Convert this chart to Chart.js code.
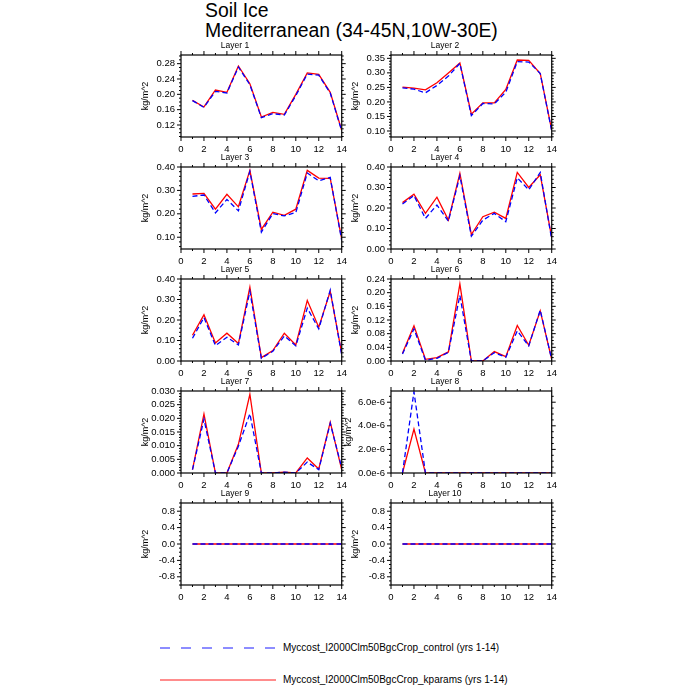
<!DOCTYPE html>
<html>
<head>
<meta charset="utf-8">
<script src="https://cdn.jsdelivr.net/npm/chart.js@4.4.1/dist/chart.umd.min.js"></script>
<style>
  body { margin: 0; background: #fff; width: 700px; height: 700px; position: relative; overflow: hidden;
         font-family: "Liberation Sans", Arial, sans-serif; }
  .pnl { position: absolute; }
  .ttl { position: absolute; left: 205px; font-size: 19.4px; line-height: 19px; white-space: nowrap; }
  .leg { position: absolute; left: 283px; font-size: 10px; line-height: 12px; white-space: nowrap; }
  svg { position: absolute; left: 0; top: 0; }
</style>
</head>
<body>
<div class="ttl" style="top:1px">Soil Ice</div>
<div class="ttl" style="top:21px">Mediterranean (34-45N,10W-30E)</div>

<svg width="700" height="700">
  <line x1="160" y1="648" x2="276" y2="648" stroke="#0000ff" stroke-width="0.9" stroke-dasharray="10,11"/>
  <line x1="160" y1="680" x2="276" y2="680" stroke="#ff0000" stroke-width="0.9"/>
</svg>
<div class="leg" style="top:642px">Myccost_I2000Clm50BgcCrop_control (yrs 1-14)</div>
<div class="leg" style="top:674px">Myccost_I2000Clm50BgcCrop_kparams (yrs 1-14)</div>

<script>
// years on the x axis
const years = [1, 2, 3, 4, 5, 6, 7, 8, 9, 10, 11, 12, 13, 14];
const xTicks = [0, 2, 4, 6, 8, 10, 12, 14];

// control = blue dashed, kparams = red solid
const layer1Control = [0.1835, 0.166, 0.2078, 0.2035, 0.2713, 0.2252, 0.1391, 0.1496, 0.146, 0.1965, 0.253, 0.250, 0.2035, 0.104];
const layer1Kparams = [0.1843, 0.167, 0.2113, 0.2052, 0.2739, 0.2278, 0.1409, 0.153, 0.1478, 0.200, 0.2557, 0.252, 0.2052, 0.106];
const layer2Control = [0.2486, 0.244, 0.2313, 0.2567, 0.2889, 0.3327, 0.153, 0.1945, 0.1933, 0.2336, 0.3385, 0.3373, 0.298, 0.100];
const layer2Kparams = [0.2509, 0.2475, 0.2417, 0.2659, 0.2993, 0.3339, 0.1576, 0.1968, 0.1968, 0.2429, 0.3442, 0.3431, 0.298, 0.103];
const layer3Control = [0.2746, 0.2804, 0.2039, 0.2616, 0.2126, 0.3814, 0.1216, 0.201, 0.1909, 0.2053, 0.3742, 0.341, 0.3554, 0.0856];
const layer3Kparams = [0.2847, 0.2876, 0.2198, 0.2833, 0.2299, 0.3857, 0.1332, 0.2068, 0.1938, 0.2198, 0.3857, 0.3525, 0.351, 0.0928];
const layer4Control = [0.2197, 0.2607, 0.1492, 0.2148, 0.136, 0.3574, 0.0623, 0.141, 0.1738, 0.1328, 0.3475, 0.2885, 0.3738, 0.046];
const layer4Kparams = [0.2262, 0.2672, 0.1738, 0.2525, 0.141, 0.3689, 0.0705, 0.1574, 0.180, 0.1492, 0.3738, 0.300, 0.3623, 0.0557];
const layer5Control = [0.111, 0.2122, 0.0751, 0.116, 0.0784, 0.3396, 0.013, 0.0473, 0.1224, 0.0735, 0.258, 0.1567, 0.3461, 0.0294];
const layer5Kparams = [0.1257, 0.2253, 0.0882, 0.1355, 0.0849, 0.3608, 0.0163, 0.0506, 0.1355, 0.0784, 0.2955, 0.1649, 0.3396, 0.0376];
const layer6Control = [0.0206, 0.0941, 0.002, 0.0078, 0.0255, 0.1922, 0, 0, 0.0245, 0.0108, 0.0882, 0.0441, 0.149, 0.004];
const layer6Kparams = [0.0225, 0.1029, 0.0049, 0.0098, 0.0265, 0.2255, 0, 0, 0.0275, 0.0127, 0.1039, 0.0461, 0.147, 0.005];
const layer7Control = [0.0012, 0.0197, 0, 0, 0.0098, 0.0217, 0, 0, 0.0003, 0, 0.0040, 0.0012, 0.0182, 0.0019];
const layer7Kparams = [0.0012, 0.0216, 0, 0, 0.0105, 0.0288, 0, 0, 0.0003, 0, 0.0055, 0.0015, 0.0186, 0.0012];
const layer8Control = [0, 6.89e-6, 0, 0, 0, 0, 0, 0, 0, 0, 0, 0, 0, 0];
const layer8Kparams = [0, 3.73e-6, 0, 0, 0, 0, 0, 0, 0, 0, 0, 0, 0, 0];
const layer9Control = [0, 0, 0, 0, 0, 0, 0, 0, 0, 0, 0, 0, 0, 0];
const layer9Kparams = [0, 0, 0, 0, 0, 0, 0, 0, 0, 0, 0, 0, 0, 0];
const layer10Control = [0, 0, 0, 0, 0, 0, 0, 0, 0, 0, 0, 0, 0, 0];
const layer10Kparams = [0, 0, 0, 0, 0, 0, 0, 0, 0, 0, 0, 0, 0, 0];

// y tick labels per layer
const yTicks1 = [0.12, 0.16, 0.20, 0.24, 0.28];
const yTicks2 = [0.10, 0.15, 0.20, 0.25, 0.30, 0.35];
const yTicks3 = [0.10, 0.20, 0.30, 0.40];
const yTicks4 = [0.00, 0.10, 0.20, 0.30, 0.40];
const yTicks5 = [0.00, 0.10, 0.20, 0.30, 0.40];
const yTicks6 = [0.00, 0.04, 0.08, 0.12, 0.16, 0.20, 0.24];
const yTicks7 = [0.000, 0.005, 0.010, 0.015, 0.020, 0.025, 0.030];
const yTicks8 = [0, 2e-6, 4e-6, 6e-6];
const yTicks9 = [-0.8, -0.4, 0.0, 0.4, 0.8];
const yTicks10 = [-0.8, -0.4, 0.0, 0.4, 0.8];

const fixed = d => v => v.toFixed(d);
const sci6 = v => (v / 1e-6).toFixed(1) + 'e-6';

const panels = [
  { name: 'Layer 1', ctl: layer1Control, kp: layer1Kparams, ticks: yTicks1, min: 0.0887, max: 0.3026, minor: 0.01, fmt: fixed(2) },
  { name: 'Layer 2', ctl: layer2Control, kp: layer2Kparams, ticks: yTicks2, min: 0.0793, max: 0.3615, minor: 0.01, fmt: fixed(2) },
  { name: 'Layer 3', ctl: layer3Control, kp: layer3Kparams, ticks: yTicks3, min: 0.0497, max: 0.40, minor: 0.02, fmt: fixed(2) },
  { name: 'Layer 4', ctl: layer4Control, kp: layer4Kparams, ticks: yTicks4, min: 0, max: 0.40, minor: 0.02, fmt: fixed(2) },
  { name: 'Layer 5', ctl: layer5Control, kp: layer5Kparams, ticks: yTicks5, min: 0, max: 0.40, minor: 0.02, fmt: fixed(2) },
  { name: 'Layer 6', ctl: layer6Control, kp: layer6Kparams, ticks: yTicks6, min: 0, max: 0.24, minor: 0.01, fmt: fixed(2) },
  { name: 'Layer 7', ctl: layer7Control, kp: layer7Kparams, ticks: yTicks7, min: 0, max: 0.030, minor: 0.001, fmt: fixed(3) },
  { name: 'Layer 8', ctl: layer8Control, kp: layer8Kparams, ticks: yTicks8, min: 0, max: 6.95e-6, minor: 0.5e-6, fmt: sci6, titleOff: 42 },
  { name: 'Layer 9', ctl: layer9Control, kp: layer9Kparams, ticks: yTicks9, min: -1, max: 1, minor: 0.1, fmt: fixed(1) },
  { name: 'Layer 10', ctl: layer10Control, kp: layer10Kparams, ticks: yTicks10, min: -1, max: 1, minor: 0.1, fmt: fixed(1) }
];

// layout of the plot boxes on the page
const colLeft = [181, 391];
const rowTop = [55, 167, 279, 391, 503];
const plotW = 163, plotH = 82;
const padL = 55, padT = 20, padR = 10, padB = 20;

// frame round the plot plus outward tick marks on all four sides
const framePlugin = {
  id: 'frame',
  afterDatasetsDraw(chart, args, opts) {
    const { ctx, chartArea: a, scales: { x, y } } = chart;
    ctx.save();
    ctx.strokeStyle = '#000';
    ctx.lineWidth = 1;
    ctx.beginPath();
    for (let v = 0; v <= 14; v++) {
      const px = x.getPixelForValue(v);
      const len = v % 2 === 0 ? 4 : 2;
      ctx.moveTo(px, a.bottom); ctx.lineTo(px, a.bottom + len);
      ctx.moveTo(px, a.top); ctx.lineTo(px, a.top - len);
    }
    const i0 = Math.ceil(opts.min / opts.minor - 1e-6);
    const i1 = Math.floor(opts.max / opts.minor + 1e-6);
    for (let i = i0; i <= i1; i++) {
      const v = i * opts.minor;
      if (opts.major.some(m => Math.abs(m - v) < opts.minor * 1e-3)) continue;
      const py = y.getPixelForValue(v);
      ctx.moveTo(a.left, py); ctx.lineTo(a.left - 2, py);
      ctx.moveTo(a.right, py); ctx.lineTo(a.right + 2, py);
    }
    opts.major.forEach(v => {
      const py = y.getPixelForValue(v);
      ctx.moveTo(a.left, py); ctx.lineTo(a.left - 4, py);
      ctx.moveTo(a.right, py); ctx.lineTo(a.right + 4, py);
    });
    ctx.stroke();
    ctx.lineWidth = 1.2;
    ctx.strokeRect(a.left, a.top, a.right - a.left, a.bottom - a.top);
    ctx.restore();
  }
};

Chart.defaults.font.family = '"Liberation Sans", Arial, sans-serif';
Chart.defaults.color = '#000';

panels.forEach((p, i) => {
  const left = colLeft[i % 2] - padL;
  const top = rowTop[Math.floor(i / 2)] - padT;
  const w = padL + plotW + padR, h = padT + plotH + padB;
  const div = document.createElement('div');
  div.className = 'pnl';
  div.style.left = left + 'px';
  div.style.top = top + 'px';
  div.style.width = w + 'px';
  div.style.height = h + 'px';
  const cv = document.createElement('canvas');
  cv.width = w; cv.height = h;
  cv.style.width = w + 'px'; cv.style.height = h + 'px';
  div.appendChild(cv);
  document.body.appendChild(div);

  const titleOff = p.titleOff || 35;
  const yTitleSize = 9;

  new Chart(cv, {
    type: 'line',
    data: {
      datasets: [{
        label: 'Myccost_I2000Clm50BgcCrop_control (yrs 1-14)',
        data: years.map((x, k) => ({ x: x, y: p.ctl[k] })),
        borderColor: '#0000ff',
        borderWidth: 1.3,
        borderDash: [5, 3],
        pointRadius: 0,
        tension: 0,
        order: 1
      }, {
        label: 'Myccost_I2000Clm50BgcCrop_kparams (yrs 1-14)',
        data: years.map((x, k) => ({ x: x, y: p.kp[k] })),
        borderColor: '#ff0000',
        borderWidth: 1.3,
        pointRadius: 0,
        tension: 0,
        order: 2
      }]
    },
    options: {
      responsive: false,
      animation: false,
      layout: { padding: { left: 0, top: 0, right: padR, bottom: 0 } },
      plugins: {
        legend: { display: false },
        tooltip: { enabled: false },
        title: {
          display: true,
          text: p.name,
          font: { size: 8.5, weight: 'normal' },
          padding: { top: 5.9, bottom: 3.9 },
          color: '#000'
        },
        frame: { major: p.ticks, minor: p.minor, min: p.min, max: p.max }
      },
      scales: {
        x: {
          type: 'linear',
          min: 0,
          max: 14,
          afterBuildTicks: s => { s.ticks = xTicks.map(v => ({ value: v })); },
          afterFit: s => { s.height = padB; },
          grid: { display: false, drawTicks: false },
          border: { display: false },
          ticks: { autoSkip: false, maxRotation: 0, padding: 7, font: { size: 9.5 } }
        },
        y: {
          type: 'linear',
          min: p.min,
          max: p.max,
          afterBuildTicks: s => { s.ticks = p.ticks.map(v => ({ value: v })); },
          afterFit: s => { s.width = padL; },
          grid: { display: false, drawTicks: false },
          border: { display: false },
          ticks: { autoSkip: false, padding: 6, font: { size: 9.5 }, callback: v => p.fmt(v) },
          title: {
            display: true,
            text: 'kg/m^2',
            font: { size: yTitleSize },
            padding: { top: padL - titleOff - yTitleSize * 0.6, bottom: 0 }
          }
        }
      }
    },
    plugins: [framePlugin]
  });
});
</script>
</body>
</html>
